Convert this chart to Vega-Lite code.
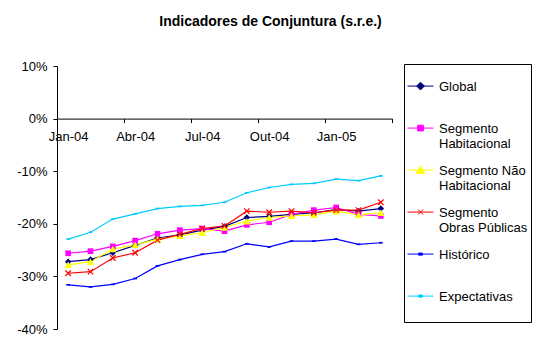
{
  "$schema": "https://vega.github.io/schema/vega-lite/v6.json",
  "width": 335,
  "height": 263,
  "autosize": "none",
  "padding": {"left": 57, "top": 66, "right": 148, "bottom": 27},
  "background": "white",
  "config": {"view": {"stroke": null}, "font": "Liberation Sans"},
  "title": {"text": "Indicadores de Conjuntura (s.r.e.)", "font": "Liberation Sans", "fontSize": 14, "fontWeight": "bold", "color": "black", "anchor": "middle", "frame": "group", "dx": 46, "offset": 20, "baseline": "alphabetic"},
  "datasets": {
    "series": [
      {"s": "Global", "m": "Jan-04", "i": 0, "v": -27.2},
      {"s": "Global", "m": "Fev-04", "i": 1, "v": -26.8},
      {"s": "Global", "m": "Mar-04", "i": 2, "v": -25.5},
      {"s": "Global", "m": "Abr-04", "i": 3, "v": -24.1},
      {"s": "Global", "m": "Mai-04", "i": 4, "v": -22.7},
      {"s": "Global", "m": "Jun-04", "i": 5, "v": -22.1},
      {"s": "Global", "m": "Jul-04", "i": 6, "v": -21.2},
      {"s": "Global", "m": "Ago-04", "i": 7, "v": -20.5},
      {"s": "Global", "m": "Set-04", "i": 8, "v": -18.8},
      {"s": "Global", "m": "Out-04", "i": 9, "v": -18.6},
      {"s": "Global", "m": "Nov-04", "i": 10, "v": -18.2},
      {"s": "Global", "m": "Dez-04", "i": 11, "v": -17.9},
      {"s": "Global", "m": "Jan-05", "i": 12, "v": -17.3},
      {"s": "Global", "m": "Fev-05", "i": 13, "v": -17.6},
      {"s": "Global", "m": "Mar-05", "i": 14, "v": -17.1},
      {"s": "Segmento Habitacional", "m": "Jan-04", "i": 0, "v": -25.6},
      {"s": "Segmento Habitacional", "m": "Fev-04", "i": 1, "v": -25.2},
      {"s": "Segmento Habitacional", "m": "Mar-04", "i": 2, "v": -24.3},
      {"s": "Segmento Habitacional", "m": "Abr-04", "i": 3, "v": -23.2},
      {"s": "Segmento Habitacional", "m": "Mai-04", "i": 4, "v": -21.9},
      {"s": "Segmento Habitacional", "m": "Jun-04", "i": 5, "v": -21.2},
      {"s": "Segmento Habitacional", "m": "Jul-04", "i": 6, "v": -20.9},
      {"s": "Segmento Habitacional", "m": "Ago-04", "i": 7, "v": -21.4},
      {"s": "Segmento Habitacional", "m": "Set-04", "i": 8, "v": -20.2},
      {"s": "Segmento Habitacional", "m": "Out-04", "i": 9, "v": -19.7},
      {"s": "Segmento Habitacional", "m": "Nov-04", "i": 10, "v": -18.2},
      {"s": "Segmento Habitacional", "m": "Dez-04", "i": 11, "v": -17.4},
      {"s": "Segmento Habitacional", "m": "Jan-05", "i": 12, "v": -16.9},
      {"s": "Segmento Habitacional", "m": "Fev-05", "i": 13, "v": -18.2},
      {"s": "Segmento Habitacional", "m": "Mar-05", "i": 14, "v": -18.5},
      {"s": "Segmento Não Habitacional", "m": "Jan-04", "i": 0, "v": -27.8},
      {"s": "Segmento Não Habitacional", "m": "Fev-04", "i": 1, "v": -27.2},
      {"s": "Segmento Não Habitacional", "m": "Mar-04", "i": 2, "v": -24.8},
      {"s": "Segmento Não Habitacional", "m": "Abr-04", "i": 3, "v": -24.0},
      {"s": "Segmento Não Habitacional", "m": "Mai-04", "i": 4, "v": -22.9},
      {"s": "Segmento Não Habitacional", "m": "Jun-04", "i": 5, "v": -22.3},
      {"s": "Segmento Não Habitacional", "m": "Jul-04", "i": 6, "v": -21.7},
      {"s": "Segmento Não Habitacional", "m": "Ago-04", "i": 7, "v": -20.7},
      {"s": "Segmento Não Habitacional", "m": "Set-04", "i": 8, "v": -19.5},
      {"s": "Segmento Não Habitacional", "m": "Out-04", "i": 9, "v": -18.8},
      {"s": "Segmento Não Habitacional", "m": "Nov-04", "i": 10, "v": -18.5},
      {"s": "Segmento Não Habitacional", "m": "Dez-04", "i": 11, "v": -18.3},
      {"s": "Segmento Não Habitacional", "m": "Jan-05", "i": 12, "v": -17.6},
      {"s": "Segmento Não Habitacional", "m": "Fev-05", "i": 13, "v": -18.3},
      {"s": "Segmento Não Habitacional", "m": "Mar-05", "i": 14, "v": -17.9},
      {"s": "Segmento Obras Públicas", "m": "Jan-04", "i": 0, "v": -29.4},
      {"s": "Segmento Obras Públicas", "m": "Fev-04", "i": 1, "v": -29.1},
      {"s": "Segmento Obras Públicas", "m": "Mar-04", "i": 2, "v": -26.5},
      {"s": "Segmento Obras Públicas", "m": "Abr-04", "i": 3, "v": -25.5},
      {"s": "Segmento Obras Públicas", "m": "Mai-04", "i": 4, "v": -23.1},
      {"s": "Segmento Obras Públicas", "m": "Jun-04", "i": 5, "v": -22.0},
      {"s": "Segmento Obras Públicas", "m": "Jul-04", "i": 6, "v": -20.9},
      {"s": "Segmento Obras Públicas", "m": "Ago-04", "i": 7, "v": -20.4},
      {"s": "Segmento Obras Públicas", "m": "Set-04", "i": 8, "v": -17.6},
      {"s": "Segmento Obras Públicas", "m": "Out-04", "i": 9, "v": -17.8},
      {"s": "Segmento Obras Públicas", "m": "Nov-04", "i": 10, "v": -17.6},
      {"s": "Segmento Obras Públicas", "m": "Dez-04", "i": 11, "v": -17.9},
      {"s": "Segmento Obras Públicas", "m": "Jan-05", "i": 12, "v": -17.4},
      {"s": "Segmento Obras Públicas", "m": "Fev-05", "i": 13, "v": -17.4},
      {"s": "Segmento Obras Públicas", "m": "Mar-05", "i": 14, "v": -15.9},
      {"s": "Histórico", "m": "Jan-04", "i": 0, "v": -31.6},
      {"s": "Histórico", "m": "Fev-04", "i": 1, "v": -32.0},
      {"s": "Histórico", "m": "Mar-04", "i": 2, "v": -31.5},
      {"s": "Histórico", "m": "Abr-04", "i": 3, "v": -30.4},
      {"s": "Histórico", "m": "Mai-04", "i": 4, "v": -28.0},
      {"s": "Histórico", "m": "Jun-04", "i": 5, "v": -26.8},
      {"s": "Histórico", "m": "Jul-04", "i": 6, "v": -25.8},
      {"s": "Histórico", "m": "Ago-04", "i": 7, "v": -25.3},
      {"s": "Histórico", "m": "Set-04", "i": 8, "v": -23.8},
      {"s": "Histórico", "m": "Out-04", "i": 9, "v": -24.4},
      {"s": "Histórico", "m": "Nov-04", "i": 10, "v": -23.3},
      {"s": "Histórico", "m": "Dez-04", "i": 11, "v": -23.3},
      {"s": "Histórico", "m": "Jan-05", "i": 12, "v": -22.9},
      {"s": "Histórico", "m": "Fev-05", "i": 13, "v": -23.9},
      {"s": "Histórico", "m": "Mar-05", "i": 14, "v": -23.6},
      {"s": "Expectativas", "m": "Jan-04", "i": 0, "v": -22.9},
      {"s": "Expectativas", "m": "Fev-04", "i": 1, "v": -21.6},
      {"s": "Expectativas", "m": "Mar-04", "i": 2, "v": -19.1},
      {"s": "Expectativas", "m": "Abr-04", "i": 3, "v": -18.1},
      {"s": "Expectativas", "m": "Mai-04", "i": 4, "v": -17.1},
      {"s": "Expectativas", "m": "Jun-04", "i": 5, "v": -16.7},
      {"s": "Expectativas", "m": "Jul-04", "i": 6, "v": -16.5},
      {"s": "Expectativas", "m": "Ago-04", "i": 7, "v": -15.9},
      {"s": "Expectativas", "m": "Set-04", "i": 8, "v": -14.1},
      {"s": "Expectativas", "m": "Out-04", "i": 9, "v": -13.1},
      {"s": "Expectativas", "m": "Nov-04", "i": 10, "v": -12.5},
      {"s": "Expectativas", "m": "Dez-04", "i": 11, "v": -12.3},
      {"s": "Expectativas", "m": "Jan-05", "i": 12, "v": -11.5},
      {"s": "Expectativas", "m": "Fev-05", "i": 13, "v": -11.8},
      {"s": "Expectativas", "m": "Mar-05", "i": 14, "v": -10.9}
    ],
    "none": []
  },
  "data": {"name": "series"},
  "encoding": {
    "x": {"field": "i", "type": "quantitative",
      "scale": {"domain": [-0.5, 14.5], "nice": false, "zero": false},
      "axis": {"title": null, "orient": "bottom", "offset": -210.4,
        "values": [-0.5, 0, 2.5, 3, 5.5, 6, 8.5, 9, 11.5, 12, 14.5],
        "labelExpr": "datum.value == 0 ? 'Jan-04' : datum.value == 3 ? 'Abr-04' : datum.value == 6 ? 'Jul-04' : datum.value == 9 ? 'Out-04' : datum.value == 12 ? 'Jan-05' : ''",
        "tickOpacity": {"condition": {"test": "datum.value % 1 != 0", "value": 1}, "value": 0},
        "tickSize": 4, "tickColor": "black", "domainColor": "black", "grid": false,
        "labelFont": "Liberation Sans", "labelFontSize": 13, "labelColor": "black", "labelPadding": 8,
        "labelOverlap": false, "labelFlush": false, "labelBound": false}},
    "y": {"field": "v", "type": "quantitative",
      "scale": {"domain": [-40, 10], "nice": false, "zero": false},
      "axis": {"title": null, "values": [10, 0, -10, -20, -30, -40], "labelExpr": "datum.value + '%'",
        "tickSize": 4, "tickColor": "black", "domainColor": "black", "grid": false,
        "labelFont": "Liberation Sans", "labelFontSize": 13, "labelColor": "black", "labelPadding": 6}}
  },
  "layer": [
    {"mark": {"type": "line", "strokeWidth": 1.2},
     "encoding": {"stroke": {"field": "s", "type": "nominal", "legend": {"title": null},
       "scale": {"domain": ["Global", "Segmento Habitacional", "Segmento Não Habitacional", "Segmento Obras Públicas", "Histórico", "Expectativas"],
                 "range": ["#000080", "#FF00FF", "#FFFF00", "#FF0000", "#0000FF", "#00CCFF"]}}}},
    {"transform": [{"filter": {"field": "s", "equal": "Global"}}],
     "mark": {"type": "point", "shape": "diamond", "filled": true, "color": "#000080", "size": 42, "opacity": 1}},
    {"transform": [{"filter": {"field": "s", "equal": "Segmento Habitacional"}}],
     "mark": {"type": "point", "shape": "square", "filled": true, "color": "#FF00FF", "size": 32, "opacity": 1}},
    {"transform": [{"filter": {"field": "s", "equal": "Segmento Não Habitacional"}}],
     "mark": {"type": "point", "shape": "triangle-up", "filled": true, "color": "#FFFF00", "size": 55, "opacity": 1}},
    {"transform": [{"filter": {"field": "s", "equal": "Segmento Obras Públicas"}}],
     "mark": {"type": "point", "shape": "M-1,-1L1,1M-1,1L1,-1", "filled": false, "color": "#FF0000", "size": 30, "strokeWidth": 1.2, "opacity": 1}},
    {"transform": [{"filter": {"field": "s", "equal": "Histórico"}}],
     "mark": {"type": "point", "shape": "M-1,-0.45L1,-0.45L1,0.45L-1,0.45Z", "filled": true, "color": "#0000FF", "size": 14, "opacity": 1}},
    {"transform": [{"filter": {"field": "s", "equal": "Expectativas"}}],
     "mark": {"type": "point", "shape": "M-1,-0.45L1,-0.45L1,0.45L-1,0.45Z", "filled": true, "color": "#00CCFF", "size": 14, "opacity": 1}},
    {"data": {"name": "none"},
     "mark": {"type": "point", "opacity": 1, "strokeWidth": 1},
     "encoding": {
       "fill": {"field": "s", "type": "nominal",
         "scale": {"domain": ["Global", "Segmento Habitacional", "Segmento Não Habitacional", "Segmento Obras Públicas", "Histórico", "Expectativas"],
                   "range": ["#000080", "#FF00FF", "#FFFF00", "#FF0000", "#0000FF", "#00CCFF"]},
         "legend": {"title": null, "orient": "none", "legendX": 347, "legendY": -2,
           "strokeColor": "black", "fillColor": "white", "padding": 3, "rowPadding": -1,
           "labelFont": "Liberation Sans", "labelFontSize": 13, "labelColor": "black", "labelBaseline": "top",
           "labelOffset": 5, "labelLimit": 0, "symbolSize": 676, "symbolStrokeWidth": 1, "symbolOpacity": 1,
           "labelExpr": "datum.label == 'Segmento Habitacional' ? ['Segmento', 'Habitacional'] : datum.label == 'Segmento Não Habitacional' ? ['Segmento Não', 'Habitacional'] : datum.label == 'Segmento Obras Públicas' ? ['Segmento', 'Obras Públicas'] : [datum.label, ' ']"}},
       "stroke": {"field": "s", "type": "nominal",
         "scale": {"domain": ["Global", "Segmento Habitacional", "Segmento Não Habitacional", "Segmento Obras Públicas", "Histórico", "Expectativas"],
                   "range": ["#000080", "#FF00FF", "#FFFF00", "#FF0000", "#0000FF", "#00CCFF"]},
         "legend": {"title": null}},
       "shape": {"field": "s", "type": "nominal",
         "scale": {"domain": ["Global", "Segmento Habitacional", "Segmento Não Habitacional", "Segmento Obras Públicas", "Histórico", "Expectativas"],
                   "range": ["M-1,0.43L1,0.43M0,0.13L0.3,0.43L0,0.73L-0.3,0.43Z",
                             "M-1,0.43L1,0.43M-0.22,0.21L0.22,0.21L0.22,0.65L-0.22,0.65Z",
                             "M-1,0.43L1,0.43M0,0.13L0.32,0.68L-0.32,0.68Z",
                             "M-1,0.43L1,0.43M-0.2,0.23L0.2,0.63M-0.2,0.63L0.2,0.23",
                             "M-1,0.43L1,0.43M-0.15,0.35L0.15,0.35L0.15,0.51L-0.15,0.51Z",
                             "M-1,0.43L1,0.43M-0.15,0.35L0.15,0.35L0.15,0.51L-0.15,0.51Z"]},
         "legend": {"title": null}}
     }}
  ]
}
